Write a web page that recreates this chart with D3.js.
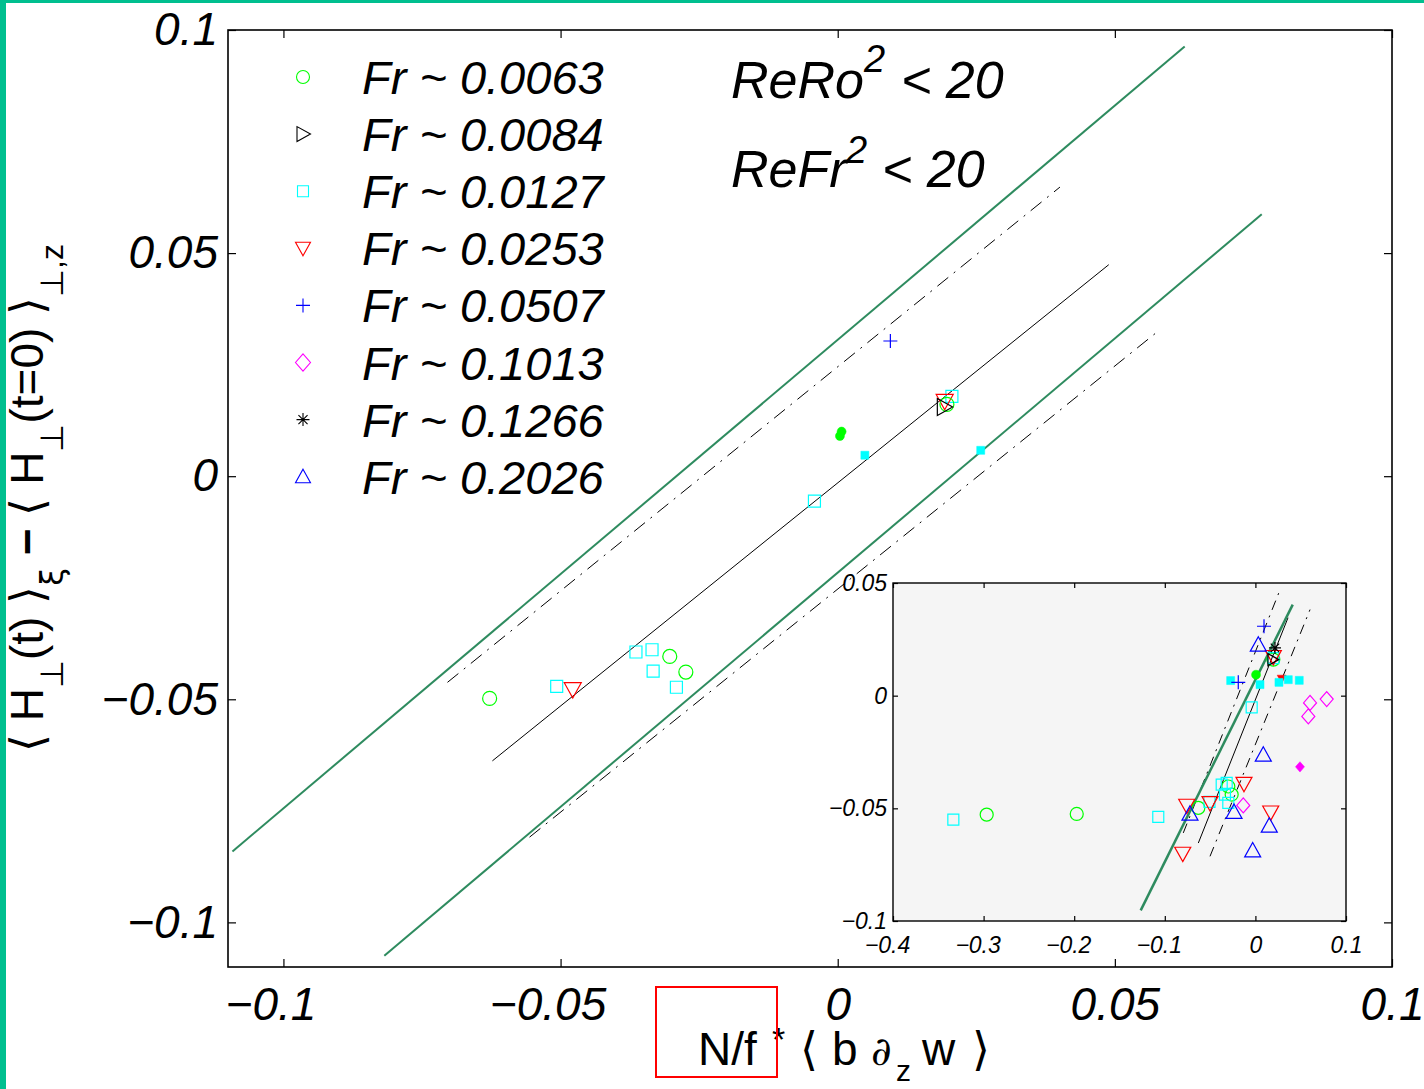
<!DOCTYPE html>
<html><head><meta charset="utf-8">
<script src="https://cdn.jsdelivr.net/npm/d3@7"></script>
<style>
html,body{margin:0;padding:0;background:#fff;}
svg{display:block;}
text{font-family:"Liberation Sans",Arial,Helvetica,sans-serif;}
</style></head>
<body>
<svg id="chart" width="1424" height="1089"></svg>
<script>
// ---------- data ----------
const legendLabels = ["Fr ~ 0.0063","Fr ~ 0.0084","Fr ~ 0.0127","Fr ~ 0.0253","Fr ~ 0.0507","Fr ~ 0.1013","Fr ~ 0.1266","Fr ~ 0.2026"];
const markerShapes = ["circle","triRight","square","triDown","plus","diamond","star","triUp"];
const markerColors = ["#00ff00","#000000","#00ffff","#ff0000","#0000ff","#ff00ff","#000000","#0000ff"];

const mainXDomain = [-0.11, 0.1];
const mainYDomain = [-0.11, 0.1];
const mainTicks = [-0.1, -0.05, 0, 0.05, 0.1];
const insetXDomain = [-0.4, 0.1];
const insetYDomain = [-0.1, 0.05];
const insetXTicks = [-0.4, -0.3, -0.2, -0.1, 0, 0.1];
const insetYTicks = [-0.1, -0.05, 0, 0.05];

// [series index, x, y, filled]
const mainPoints = [
  [0,-0.0628,-0.0498,0],[0,-0.0303,-0.0404,0],[0,-0.0274,-0.0439,0],
  [0,0.0004,0.0090,1],[0,0.0007,0.0100,1],
  [2,-0.0507,-0.0471,0],[2,-0.0364,-0.0394,0],[2,-0.0335,-0.0389,0],[2,-0.0333,-0.0437,0],[2,-0.0291,-0.0473,0],[2,-0.0042,-0.0056,0],[2,0.0206,0.0179,0],
  [2,0.0049,0.0047,1],[2,0.0258,0.0058,1],
  [3,-0.0478,-0.0478,0],[3,0.0193,0.0168,0],
  [0,0.0197,0.0161,0],
  [1,0.0192,0.0155,0],
  [4,0.0095,0.0303,0]
];
const insetPoints = [
  [3,0.0290,0.0075,1],
  [2,-0.0273,0.0067,1],[2,0.0051,0.0049,1],[2,0.0260,0.0059,1],[2,0.0363,0.0071,1],[2,0.0484,0.0068,1],
  [0,-0.2966,-0.0528,0],[0,-0.1972,-0.0525,0],[0,-0.0630,-0.0498,0],[0,-0.0299,-0.0403,0],[0,-0.0262,-0.0439,0],[0,0.0198,0.0160,0],
  [0,0.0007,0.0093,1],
  [2,-0.3334,-0.0550,0],[2,-0.1072,-0.0538,0],[2,-0.0041,-0.0052,0],[2,-0.0372,-0.0395,0],[2,-0.0317,-0.0387,0],[2,-0.0336,-0.0439,0],[2,-0.0299,-0.0476,0],[2,0.0198,0.0167,0],[2,-0.0507,-0.0471,0],
  [3,-0.0758,-0.0488,0],[3,-0.0501,-0.0476,0],[3,-0.0126,-0.0391,0],[3,0.0169,-0.0518,0],[3,-0.0802,-0.0701,0],[3,0.0198,0.0172,0],
  [1,0.0191,0.0160,0],
  [4,0.0095,0.0308,0],[4,-0.0189,0.0059,0],
  [5,0.0603,-0.0032,0],[5,0.0584,-0.0092,0],[5,0.0787,-0.0015,0],[5,-0.0134,-0.0487,0],
  [5,0.0492,-0.0316,1],
  [6,0.0216,0.0212,0],
  [7,0.0032,0.0226,0],[7,0.0087,-0.0262,0],[7,-0.0722,-0.0524,0],[7,-0.0236,-0.0516,0],[7,0.0153,-0.0577,0],[7,-0.0030,-0.0687,0]
];

// fit lines: [x1,y1,x2,y2,style]
const mainLines = [
  [-0.1092,-0.0841,0.0626,0.0963,"green"],
  [-0.0818,-0.1075,0.0765,0.0587,"green"],
  [-0.0704,-0.0462,0.0401,0.0648,"dashdot"],
  [-0.0556,-0.0809,0.0576,0.0323,"dashdot"],
  [-0.0623,-0.0638,0.0489,0.0474,"black"]
];
const insetLines = [
  [-0.0796,-0.0609,0.0272,0.0470,"dashdot"],
  [-0.0501,-0.0713,0.0603,0.0382,"dashdot"],
  [-0.0630,-0.0654,0.0360,0.0346,"black"],
  [-0.1266,-0.0953,0.0412,0.0404,"green"]
];

// ---------- helpers ----------
function markerPath(shape, h){
  switch(shape){
    case "circle": return `M${h},0A${h},${h} 0 1,1 ${-h},0A${h},${h} 0 1,1 ${h},0Z`;
    case "square": return `M${-h},${-h}H${h}V${h}H${-h}Z`;
    case "triUp": return `M0,${-h}L${h},${0.8*h}L${-h},${0.8*h}Z`;
    case "triDown": return `M0,${h}L${h},${-0.8*h}L${-h},${-0.8*h}Z`;
    case "triRight": return `M${h},0L${-0.8*h},${h}L${-0.8*h},${-h}Z`;
    case "diamond": return `M0,${-1.15*h}L${h},0L0,${1.15*h}L${-h},0Z`;
    case "plus": return `M${-h},0H${h}M0,${-h}V${h}`;
    case "star": { const d=0.7*h; return `M${-h},0H${h}M0,${-h}V${h}M${-d},${-d}L${d},${d}M${-d},${d}L${d},${-d}`; }
  }
}
const fmt = v => v === 0 ? "0" : (v < 0 ? "\u2212" : "") + String(Math.abs(+v.toFixed(4)));

const svg = d3.select("#chart");
const W = 1424, H = 1089;

// teal frame
svg.append("rect").attr("x",0).attr("y",0).attr("width",W).attr("height",3).attr("fill","#00bf8f");
svg.append("rect").attr("x",0).attr("y",0).attr("width",6).attr("height",H).attr("fill","#00bf8f");

// ---------- main axes ----------
const xMain = d3.scaleLinear().domain(mainXDomain).range([228,1392]);
const yMain = d3.scaleLinear().domain(mainYDomain).range([967,30]);

const mainG = svg.append("g");
function styleAxis(g, fs){
  g.select(".domain").remove();
  g.selectAll(".tick line").attr("stroke","#000").attr("stroke-width",1.2);
  g.selectAll(".tick text").attr("fill","#000").attr("font-size",fs).attr("font-style","italic").attr("font-family","'Liberation Sans',Arial,sans-serif");
}
function shiftNeg(g, px){
  g.selectAll(".tick text").attr("dx", d => d < 0 ? -px : 0);
}
mainG.append("g").attr("transform","translate(0,967)")
  .call(d3.axisBottom(xMain).tickValues(mainTicks).tickFormat(fmt).tickSize(-8).tickPadding(20))
  .call(g=>styleAxis(g,46)).call(g=>shiftNeg(g,13));
mainG.append("g").attr("transform","translate(0,30)")
  .call(d3.axisTop(xMain).tickValues(mainTicks).tickFormat("").tickSize(-8))
  .call(g=>styleAxis(g,46));
mainG.append("g").attr("transform","translate(228,0)")
  .call(d3.axisLeft(yMain).tickValues(mainTicks).tickFormat(fmt).tickSize(-8).tickPadding(10))
  .call(g=>styleAxis(g,46));
mainG.append("g").attr("transform","translate(1392,0)")
  .call(d3.axisRight(yMain).tickValues(mainTicks).tickFormat("").tickSize(-8))
  .call(g=>styleAxis(g,46));
mainG.append("rect").attr("x",xMain.range()[0]).attr("y",yMain.range()[1])
  .attr("width",xMain.range()[1]-xMain.range()[0]).attr("height",yMain.range()[0]-yMain.range()[1])
  .attr("fill","none").attr("stroke","#000").attr("stroke-width",1.6);

function drawLines(g, lines, xs, ys, dash, gw){
  lines.forEach(l=>{
    const ln = g.append("line").attr("x1",xs(l[0])).attr("y1",ys(l[1])).attr("x2",xs(l[2])).attr("y2",ys(l[3]));
    if(l[4]==="green") ln.attr("stroke","#2e8b5f").attr("stroke-width",gw);
    else if(l[4]==="black") ln.attr("stroke","#000").attr("stroke-width",1);
    else ln.attr("stroke","#000").attr("stroke-width",1).attr("stroke-dasharray",dash);
  });
}
drawLines(mainG, mainLines, xMain, yMain, "14,7,2,7", 2);

const mainSizes = {circle:7, square:6, triUp:8.5, triDown:8.5, triRight:8.5, diamond:7, plus:7, star:7};
function drawPoints(g, pts, xs, ys, sizes, filledSize){
  pts.forEach(p=>{
    const s = p[0], shape = markerShapes[s], col = markerColors[s];
    const filled = p[3]===1;
    let h = filled ? filledSize[shape] : sizes[shape];
    g.append("path").attr("d",markerPath(shape,h))
      .attr("transform",`translate(${xs(p[1])},${ys(p[2])})`)
      .attr("fill", filled ? col : "none")
      .attr("stroke", col).attr("stroke-width", filled ? 0.5 : 1.2);
  });
}
drawPoints(mainG, mainPoints, xMain, yMain, mainSizes, {circle:4.5, square:4, triDown:4, diamond:4.5});

// legend
const legG = svg.append("g");
const legSizes = {circle:6.5, square:5.5, triUp:7.5, triDown:7.5, triRight:7.5, diamond:7.5, plus:7, star:6.5};
legendLabels.forEach((lab,i)=>{
  const cy = 77 + i*57.1;
  legG.append("path").attr("d",markerPath(markerShapes[i],legSizes[markerShapes[i]]))
    .attr("transform",`translate(303,${cy})`).attr("fill","none")
    .attr("stroke",markerColors[i]).attr("stroke-width",1.1);
  legG.append("text").attr("x",362).attr("y",cy+17).attr("font-size",47).attr("font-style","italic").text(lab);
});

// annotations
const ann = svg.append("g").attr("font-style","italic");
const a1 = ann.append("text").attr("x",731).attr("y",98).attr("font-size",52);
a1.append("tspan").text("ReRo");
a1.append("tspan").attr("font-size",38).attr("dy",-26).text("2");
a1.append("tspan").attr("x",901).attr("dy",26).text("< 20");
const a2 = ann.append("text").attr("x",731).attr("y",187).attr("font-size",52);
a2.append("tspan").text("ReFr");
a2.append("tspan").attr("font-size",38).attr("x",846).attr("dy",-24).text("2");
a2.append("tspan").attr("x",882).attr("dy",24).text("< 20");

// x label
const xl = svg.append("text").attr("y",1065).attr("font-size",46);
xl.append("tspan").attr("x",698).text("N/f");
xl.append("tspan").attr("x",772).attr("dy",-14).attr("font-size",34).text("*");
xl.append("tspan").attr("x",800).attr("dy",14).text("\u27e8");
xl.append("tspan").attr("x",832).text("b");
xl.append("tspan").attr("x",871).attr("font-style","italic").attr("font-family","'DejaVu Serif',serif").attr("font-size",40).text("\u2202");
xl.append("tspan").attr("x",896).attr("dy",16).attr("font-size",30).text("z");
xl.append("tspan").attr("x",922).attr("dy",-16).text("w");
xl.append("tspan").attr("x",972).text("\u27e9");
svg.append("rect").attr("x",656).attr("y",987).attr("width",121).attr("height",90)
  .attr("fill","none").attr("stroke","#ff0000").attr("stroke-width",2);

// y label
const yl = svg.append("text").attr("transform","translate(43,498) rotate(-90)").attr("text-anchor","middle").attr("font-size",46);
yl.append("tspan").text("\u27e8 H");
yl.append("tspan").attr("font-size",32).attr("dy",20).text("\u22a5");
yl.append("tspan").attr("dy",-20).text("(t) \u27e9");
yl.append("tspan").attr("font-size",32).attr("dy",20).attr("font-family","'DejaVu Sans',sans-serif").text("\u03be");
yl.append("tspan").attr("dy",-20).attr("font-weight","bold").text(" \u2212 ");
yl.append("tspan").text("\u27e8 H");
yl.append("tspan").attr("font-size",32).attr("dy",20).text("\u22a5");
yl.append("tspan").attr("dy",-20).text("(t=0) \u27e9");
yl.append("tspan").attr("font-size",32).attr("dy",20).text("\u22a5,z");

// ---------- inset ----------
const xIn = d3.scaleLinear().domain(insetXDomain).range([893,1346]);
const yIn = d3.scaleLinear().domain(insetYDomain).range([921,583]);
const inG = svg.append("g");
inG.append("rect").attr("x",893).attr("y",583).attr("width",453).attr("height",338).attr("fill","#f5f5f5");
inG.append("g").attr("transform","translate(0,921)")
  .call(d3.axisBottom(xIn).tickValues(insetXTicks).tickFormat(fmt).tickSize(-5).tickPadding(16))
  .call(g=>styleAxis(g,23)).call(g=>shiftNeg(g,6));
inG.append("g").attr("transform","translate(0,583)")
  .call(d3.axisTop(xIn).tickValues(insetXTicks).tickFormat("").tickSize(-5))
  .call(g=>styleAxis(g,23));
inG.append("g").attr("transform","translate(893,0)")
  .call(d3.axisLeft(yIn).tickValues(insetYTicks).tickFormat(fmt).tickSize(-5).tickPadding(6))
  .call(g=>styleAxis(g,23));
inG.append("g").attr("transform","translate(1346,0)")
  .call(d3.axisRight(yIn).tickValues(insetYTicks).tickFormat("").tickSize(-5))
  .call(g=>styleAxis(g,23));
drawLines(inG, insetLines, xIn, yIn, "10,6,2,6", 2.5);
const inSizes = {circle:6.5, square:5.5, triUp:8, triDown:8, triRight:6, diamond:6.5, plus:7, star:6};
drawPoints(inG, insetPoints, xIn, yIn, inSizes, {circle:4.5, square:4, triDown:4.5, diamond:4.5});
inG.append("rect").attr("x",893).attr("y",583).attr("width",453).attr("height",338)
  .attr("fill","none").attr("stroke","#000").attr("stroke-width",1.4);
</script>
</body></html>
